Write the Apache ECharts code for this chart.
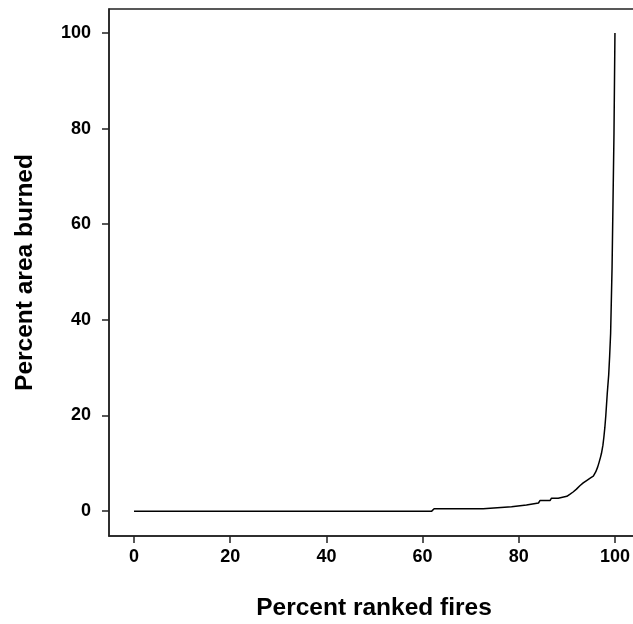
<!DOCTYPE html>
<html>
<head>
<meta charset="utf-8">
<script src="https://cdn.jsdelivr.net/npm/echarts@6/dist/echarts.min.js"></script>
<style>
  html, body { margin: 0; padding: 0; background: #fff; }
  #chart { width: 633px; height: 624px; }
</style>
</head>
<body>
<div id="chart"></div>
<script>
// Fires ranked by size (percent of all fires) against area burned (percent)
const rankedFires = [0, 61.9, 62.4, 72.6, 73.0, 78.5, 78.8, 81.6, 81.9, 84.1, 84.4, 86.5, 86.8, 88.2, 88.5, 90.0,
  90.6, 91.3, 92.0, 92.7, 93.4, 94.1, 95.0, 95.5, 96.0, 96.4, 96.7, 97.0, 97.2, 97.5, 97.7, 97.9, 98.1,
  98.4, 98.7, 98.9, 99.1, 99.4, 99.6, 99.8, 100];
const areaBurned = [0, 0, 0.5, 0.5, 0.9, 0.9, 1.3, 1.3, 1.7, 1.7, 2.2, 2.2, 2.7, 2.7, 3.1, 3.1,
  3.5, 4.0, 4.6, 5.3, 5.9, 6.4, 7.0, 7.3, 8.2, 9.2, 10.2, 11.3, 12.1, 13.8, 15.5, 17.5, 20.0,
  24.6, 28.5, 32.5, 37.2, 51, 65, 79, 100];
const tickValues = [0, 20, 40, 60, 80, 100];

const font = 'Liberation Sans, Arial, sans-serif';
const axisColor = '#222';

function axis(name, nameGap, labelMargin) {
  return {
    type: 'value',
    min: -5.2,
    max: 105,
    name: name,
    nameLocation: 'middle',
    nameGap: nameGap,
    nameTextStyle: { fontFamily: font, fontWeight: 'bold', fontSize: 24.5, color: '#000' },
    axisLine: { show: true, onZero: false, lineStyle: { color: axisColor, width: 1.5 } },
    axisTick: { show: true, inside: false, length: 7, customValues: tickValues,
      lineStyle: { color: axisColor, width: 1.5 } },
    axisLabel: { customValues: tickValues, margin: labelMargin, fontFamily: font,
      fontWeight: 'bold', fontSize: 18, color: '#000' },
    splitLine: { show: false }
  };
}

const chart = echarts.init(document.getElementById('chart'), null, { renderer: 'canvas' });
chart.setOption({
  animation: false,
  backgroundColor: '#fff',
  grid: {
    left: 109, top: 9, width: 530, height: 527,
    containLabel: false, outerBoundsMode: 'none',
    show: true, borderColor: axisColor, borderWidth: 1.5, backgroundColor: 'transparent'
  },
  xAxis: axis('Percent ranked fires', 60, 12),
  yAxis: axis('Percent area burned', 71, 18),
  series: [{
    type: 'line',
    data: rankedFires.map((x, i) => [x, areaBurned[i]]),
    showSymbol: false,
    smooth: false,
    lineStyle: { color: '#000', width: 1.5 }
  }]
});
</script>
</body>
</html>
